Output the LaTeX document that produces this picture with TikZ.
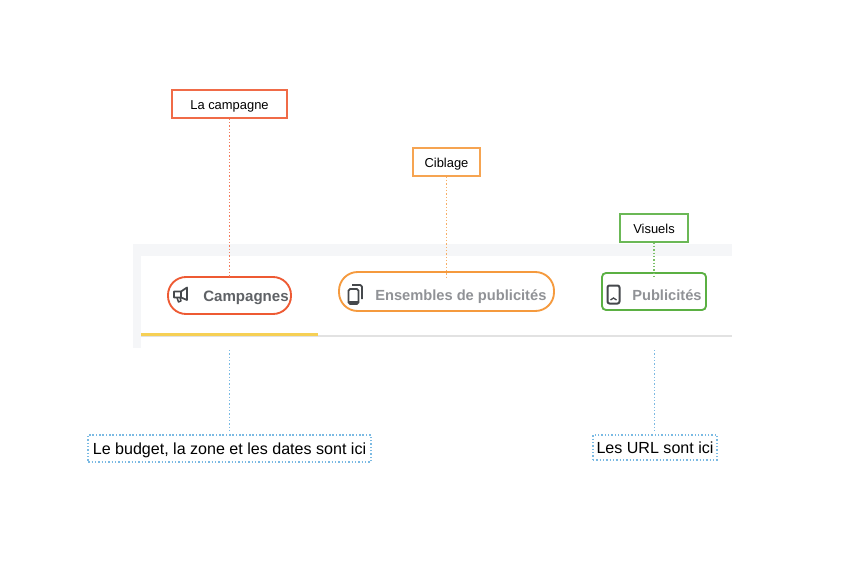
\documentclass[tikz,border=0pt]{standalone}
\usepackage{fontspec}
\setmainfont{Liberation Sans}
\definecolor{cred}{HTML}{EE5A33}
\definecolor{corange}{HTML}{F59A3E}
\definecolor{cgreen}{HTML}{5BB043}
\definecolor{cblue}{HTML}{5AA9DC}
\definecolor{cband}{HTML}{F5F6F8}
\definecolor{cyellow}{HTML}{F6D055}
\definecolor{cline}{HTML}{E2E2E2}
\definecolor{cicon}{HTML}{45484C}
\definecolor{ctextA}{HTML}{5F6266}
\definecolor{ctextB}{HTML}{909296}
\tikzset{
  labelbox/.style={draw=#1!90,line width=0.8pt,fill=white,inner sep=0pt,font=\fontsize{9.7pt}{11pt}\selectfont,text=black,text height=10pt,text depth=2pt},
  notebox/.style={draw=cblue!80,line width=1.1pt,dash pattern=on 1.1pt off 1.4pt,inner sep=0pt,font=\fontsize{12.05pt}{14pt}\selectfont,text=black,text height=12pt,text depth=2.5pt},
  dotline/.style={draw=#1!80,line width=1.3pt,dash pattern=on 1.1pt off 1.4pt},
  pill/.style={draw=#1,line width=1.4pt,inner sep=0pt},
  tabtext/.style={font=\bfseries\fontsize{#1}{12pt}\selectfont,inner sep=0pt,anchor=base west},
  iconline/.style={draw=cicon,line width=1.1pt,line join=round},
}
\begin{document}
\begin{tikzpicture}[x=0.75pt,y=-0.75pt]
\useasboundingbox (0,0) rectangle (866,574);
\fill[white] (0,0) rectangle (866,574);
% band
\fill[cband] (133,244) rectangle (732,348);
\fill[white] (141,256) rectangle (732,336);
\fill[white] (141,337) rectangle (732,348);
\fill[cline] (141,335) rectangle (732,337);
\fill[cyellow] (141,333) rectangle (318,336);
% boxes
\node[labelbox=cred,minimum width=86.25pt,minimum height=21pt] (bcamp) at (229.5,104) {La campagne};
\node[labelbox=corange,minimum width=50.25pt,minimum height=21pt] (bcib) at (446.5,162) {Ciblage};
\node[labelbox=cgreen,minimum width=51pt,minimum height=21pt] (bvis) at (654,228) {Visuels};
\node[notebox,minimum width=212pt,minimum height=20.25pt] (nbud) at (229.5,448.5) {Le budget, la zone et les dates sont ici};
\node[notebox,minimum width=93pt,minimum height=18.75pt] (nurl) at (655,447.5) {Les URL sont ici};
% pills
\node[pill=cred,rounded corners=13.5pt,minimum width=92.25pt,minimum height=27.75pt] (pcamp) at (229.5,295.5) {};
\node[pill=corange,rounded corners=14pt,minimum width=161.25pt,minimum height=29.25pt] (pens) at (446.5,291.5) {};
\node[pill=cgreen,rounded corners=3pt,minimum width=78pt,minimum height=27.75pt] (ppub) at (654,291.5) {};
% tab labels
\node[tabtext=11.3pt,text=ctextA] (tcamp) at (203,301) {Campagnes};
\node[tabtext=11pt,text=ctextB] (tens) at (375,300) {Ensembles de publicités};
\node[tabtext=11pt,text=ctextB] (tpub) at (632,300) {Publicités};
% free ends
\coordinate (ecamp) at (229.5,277);
\coordinate (eens) at (446.5,277);
\coordinate (epub) at (654,279);
\coordinate (sbud) at (229.5,350);
\coordinate (surl) at (654.5,350);
\coordinate (ebud) at (229.5,431);
\coordinate (eurl) at (654.5,433);
% connectors
\draw[dotline=cred] (bcamp.south) -- (ecamp);
\draw[dotline=corange] (bcib.south) -- (eens);
\draw[dotline=cgreen] (bvis.south) -- (epub);
\draw[dotline=cblue] (sbud) -- (ebud);
\draw[dotline=cblue] (surl) -- (eurl);
% megaphone icon
\draw[iconline,line width=1.3pt] (174,291.5) -- (181,291.5) -- (187,287.5) -- (187,300) -- (181,297.5) -- (174,297.5) -- cycle;
\draw[iconline] (181,291.5) -- (181,297.5);
\draw[iconline] (177,297.5) -- (178.5,302) -- (181,301) -- (180,297.5);
% double phone icon
\draw[iconline,line width=1.4pt,rounded corners=1.2pt] (348.5,289) rectangle (358.5,304);
\draw[iconline,line width=1.3pt,rounded corners=1.2pt] (352,285) -- (362,285) -- (362,299);
\fill[cicon] (349,300.5) rectangle (358,304);
% phone icon
\draw[iconline,line width=1.5pt,rounded corners=1.5pt] (607.5,285.5) rectangle (619.5,303.5);
\draw[cicon,line width=1pt] (610.5,300) -- (613.5,298) -- (616.5,300);
\end{tikzpicture}
\end{document}
